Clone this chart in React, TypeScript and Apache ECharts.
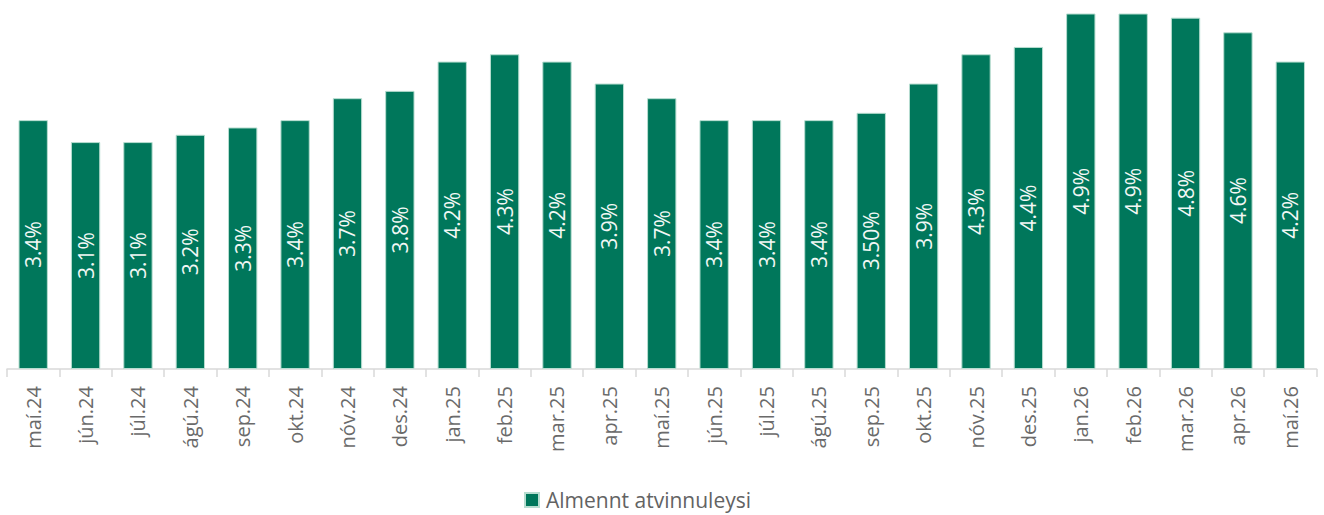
import React, { useEffect, useRef } from "react";
import * as echarts from "echarts";

const categories = [
  "maí.24", "jún.24", "júl.24", "ágú.24", "sep.24", "okt.24", "nóv.24", "des.24",
  "jan.25", "feb.25", "mar.25", "apr.25", "maí.25", "jún.25", "júl.25", "ágú.25",
  "sep.25", "okt.25", "nóv.25", "des.25", "jan.26", "feb.26", "mar.26", "apr.26", "maí.26",
];
const values = [
  3.4, 3.1, 3.1, 3.2, 3.3, 3.4, 3.7, 3.8,
  4.2, 4.3, 4.2, 3.9, 3.7, 3.4, 3.4, 3.4,
  3.5, 3.9, 4.3, 4.4, 4.9, 4.9, 4.8, 4.6, 4.2,
];
const labels = [
  "3.4%", "3.1%", "3.1%", "3.2%", "3.3%", "3.4%", "3.7%", "3.8%",
  "4.2%", "4.3%", "4.2%", "3.9%", "3.7%", "3.4%", "3.4%", "3.4%",
  "3.50%", "3.9%", "4.3%", "4.4%", "4.9%", "4.9%", "4.8%", "4.6%", "4.2%",
];
const seriesName = "Almennt atvinnuleysi";

export default function App() {
  const ref = useRef<HTMLDivElement>(null);
  useEffect(() => {
    if (!ref.current) return;
    const chart = echarts.init(ref.current, undefined, { renderer: "svg" });
    const font = "'Open Sans', 'Noto Sans', sans-serif";
    chart.setOption({
      animation: false,
      textStyle: { fontFamily: font },
      grid: { left: 7, right: 7.5, top: 14, bottom: 146, containLabel: false },
      legend: {
        data: [seriesName],
        left: 524,
        top: 488,
        padding: 0,
        icon: "rect",
        itemWidth: 14,
        itemHeight: 14,
        itemGap: 6,
        textStyle: { fontSize: 21, lineHeight: 24, color: "#636363", fontFamily: font, padding: [0, 0, 0, 2] },
      },
      xAxis: {
        type: "category",
        data: categories,
        axisLine: { lineStyle: { color: "#d9d9d9", width: 1.5 } },
        axisTick: { show: true, length: 8, lineStyle: { color: "#d9d9d9", width: 1.5 } },
        axisLabel: {
          rotate: 90,
          margin: 17,
          fontSize: 20,
          color: "#6a6a6a",
          fontFamily: font,
          interval: 0,
        },
      },
      yAxis: {
        type: "value",
        min: 0,
        max: 4.85,
        show: false,
        splitLine: { show: false },
      },
      series: [
        {
          name: seriesName,
          type: "bar",
          data: values,
          barWidth: "56%",
          clip: true,
          itemStyle: { color: "#00775B", borderColor: "#b7ddd0", borderWidth: 1 },
          label: {
            show: true,
            position: "inside",
            rotate: 90,
            fontSize: 21,
            color: "#f2f7f5",
            fontFamily: font,
            formatter: (p: any) => labels[p.dataIndex],
          },
        },
      ],
    });
    return () => chart.dispose();
  }, []);
  return <div ref={ref} style={{ width: 1324, height: 515, position: "absolute", left: 0, top: 0 }} />;
}
